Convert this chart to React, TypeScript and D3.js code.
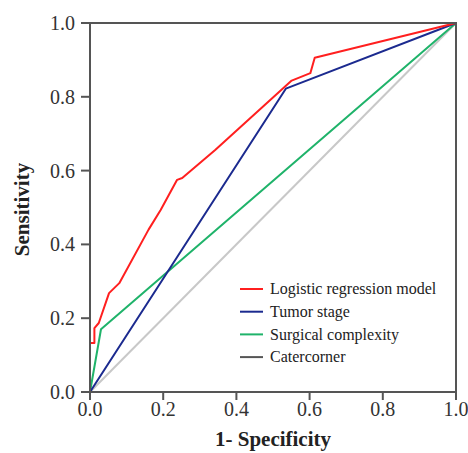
import React from "react";
import * as d3 from "d3";

const xTicks = [0, 0.2, 0.4, 0.6, 0.8, 1.0];
const yTicks = [0, 0.2, 0.4, 0.6, 0.8, 1.0];

const logisticFpr = [0, 0, 0.012, 0.012, 0.024, 0.052, 0.08, 0.16, 0.193, 0.238, 0.252, 0.342, 0.533, 0.551, 0.602, 0.614, 1];
const logisticTpr = [0, 0.133, 0.133, 0.173, 0.187, 0.268, 0.295, 0.44, 0.493, 0.575, 0.58, 0.656, 0.828, 0.844, 0.864, 0.906, 1];

const tumorFpr = [0, 0.535, 1];
const tumorTpr = [0, 0.822, 1];

const surgicalFpr = [0, 0.03, 1];
const surgicalTpr = [0, 0.17, 1];

const diagFpr = [0, 1];
const diagTpr = [0, 1];

const seriesNames = ["Logistic regression model", "Tumor stage", "Surgical complexity", "Catercorner"];
const seriesColors = ["#ff1f1f", "#1b2a8f", "#1fb36a", "#c8c8c8"];
const legendColors = ["#ff1f1f", "#1b2a8f", "#1fb36a", "#555555"];

export default function App() {
  const W = 468, H = 453;
  const left = 90, right = 456, top = 23, bottom = 392;
  const x = d3.scaleLinear().domain([0, 1]).range([left, right]);
  const y = d3.scaleLinear().domain([0, 1]).range([bottom, top]);
  const line = d3.line<[number, number]>().x(d => x(d[0])).y(d => y(d[1]));
  const zip = (a: number[], b: number[]) => a.map((v, i) => [v, b[i]] as [number, number]);
  const series = [
    zip(logisticFpr, logisticTpr),
    zip(tumorFpr, tumorTpr),
    zip(surgicalFpr, surgicalTpr),
    zip(diagFpr, diagTpr),
  ];
  const drawOrder = [3, 2, 1, 0];
  const axisColor = "#555555";
  const fontStyle = { fontFamily: "Liberation Serif" };
  return (
    <svg width={W} height={H} style={{ position: "absolute", left: 0, top: 0, background: "#fff" }}>
      {drawOrder.map(i => (
        <path key={i} d={line(series[i]) || ""} fill="none" stroke={seriesColors[i]} strokeWidth={2} strokeLinejoin="round" />
      ))}
      <rect x={left} y={top} width={right - left} height={bottom - top} fill="none" stroke={axisColor} strokeWidth={2} />
      {yTicks.map(t => (
        <g key={"y" + t}>
          <line x1={left - 9} x2={left} y1={y(t)} y2={y(t)} stroke={axisColor} strokeWidth={2} />
          <text x={left - 15} y={y(t)} dy="0.35em" textAnchor="end" style={fontStyle} fontSize={20} fill="#333">{t.toFixed(1)}</text>
        </g>
      ))}
      {xTicks.map(t => (
        <g key={"x" + t}>
          <line x1={x(t)} x2={x(t)} y1={bottom} y2={bottom + 8} stroke={axisColor} strokeWidth={2} />
          <text x={x(t)} y={bottom + 24} textAnchor="middle" style={fontStyle} fontSize={20} fill="#333">{t.toFixed(1)}</text>
        </g>
      ))}
      <text x={(left + right) / 2} y={446} textAnchor="middle" style={fontStyle} fontSize={21} fontWeight="bold" fill="#222">1- Specificity</text>
      <text transform={`translate(29, ${(top + bottom) / 2 + 2}) rotate(-90)`} textAnchor="middle" style={fontStyle} fontSize={21} fontWeight="bold" fill="#222">Sensitivity</text>
      {seriesNames.map((n, i) => {
        const ly = 289 + i * 22.7;
        return (
          <g key={n}>
            <line x1={240} x2={263} y1={ly} y2={ly} stroke={legendColors[i]} strokeWidth={2} />
            <text x={270} y={ly} dy="0.33em" style={fontStyle} fontSize={16} fill="#222">{n}</text>
          </g>
        );
      })}
    </svg>
  );
}
